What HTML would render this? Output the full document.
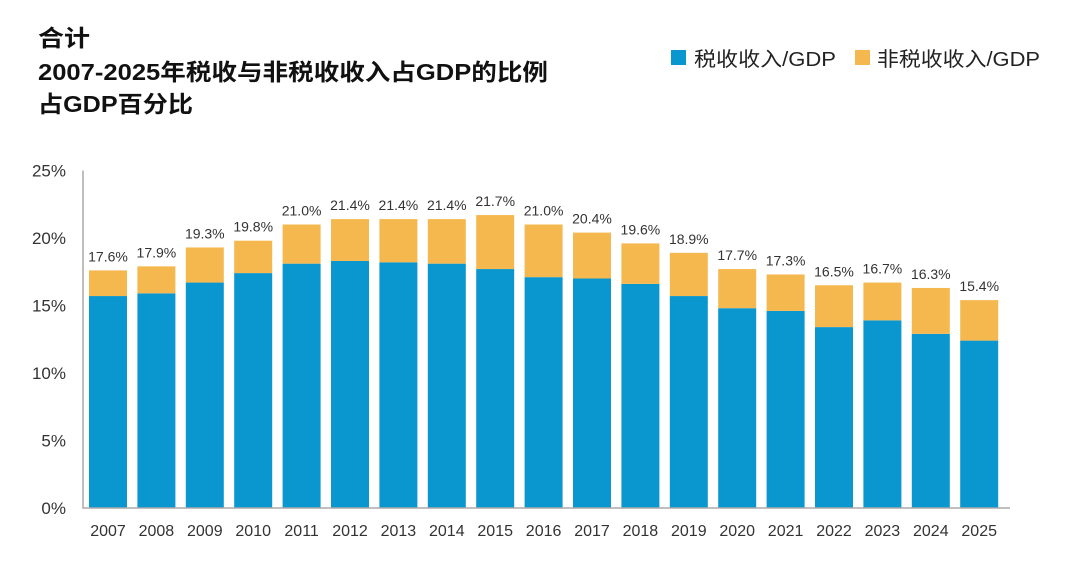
<!DOCTYPE html>
<html><head><meta charset="utf-8"><style>
body{margin:0;background:#fff;width:1080px;height:563px;overflow:hidden;font-family:"Liberation Sans","Noto Sans CJK SC",sans-serif;}
</style></head><body>
<svg width="1080" height="563" xmlns="http://www.w3.org/2000/svg">
<g font-family="Liberation Sans, Noto Sans CJK SC, sans-serif" font-weight="bold" fill="#111" font-size="23">
<text x="38" y="46" textLength="52" lengthAdjust="spacingAndGlyphs">合计</text>
<text x="38" y="80" textLength="510" lengthAdjust="spacingAndGlyphs">2007-2025年税收与非税收收入占GDP的比例</text>
<text x="38" y="112" textLength="155" lengthAdjust="spacingAndGlyphs">占GDP百分比</text>
</g>
<g font-size="20" fill="#222" font-family="Liberation Sans, Noto Sans CJK SC, sans-serif">
<rect x="671" y="50" width="15" height="15" fill="#0a97cf"/>
<text x="694" y="66" textLength="142" lengthAdjust="spacingAndGlyphs">税收收入/GDP</text>
<rect x="855" y="50" width="15" height="15" fill="#f5b84f"/>
<text x="877" y="66" textLength="163" lengthAdjust="spacingAndGlyphs">非税收收入/GDP</text>
</g>
<g id="plot"></g>
</svg>
<script>
const years=["2007","2008","2009","2010","2011","2012","2013","2014","2015","2016","2017","2018","2019","2020","2021","2022","2023","2024","2025"];
const totals=[17.6,17.9,19.3,19.8,21.0,21.4,21.4,21.4,21.7,21.0,20.4,19.6,18.9,17.7,17.3,16.5,16.7,16.3,15.4];
const tax=[15.7,15.9,16.7,17.4,18.1,18.3,18.2,18.1,17.7,17.1,17.0,16.6,15.7,14.8,14.6,13.4,13.9,12.9,12.4];
const yTicks=[0,5,10,15,20,25];
const NS="http://www.w3.org/2000/svg";
const g=document.getElementById('plot');
const y0=508,ppu=13.5,x0=89,step=48.4,bw=38;
const y=v=>y0-v*ppu;
const x=i=>x0+i*step;
function mk(t,a){const e=document.createElementNS(NS,t);for(const k in a)e.setAttribute(k,a[k]);g.appendChild(e);return e;}
yTicks.forEach(v=>{const t=mk('text',{x:66,y:y(v)+6,'text-anchor':'end','font-size':17,fill:'#333'});t.textContent=v+'%';

});
years.forEach((yr,i)=>{
const b=mk('rect',{x:x(i),y:y(tax[i]),width:bw,height:tax[i]*ppu,fill:'#0a97cf'});


const n=mk('rect',{x:x(i),y:y(totals[i]),width:bw,height:(totals[i]-tax[i])*ppu,fill:'#f5b84f'});


const l=mk('text',{x:x(i)+bw/2,y:y(totals[i])-9,'text-anchor':'middle','font-size':14,fill:'#333'});l.textContent=totals[i].toFixed(1)+'%';


const xl=mk('text',{x:x(i)+bw/2,y:536,'text-anchor':'middle','font-size':16,fill:'#333'});xl.textContent=yr;


});
const ax=mk('path',{d:`M83 ${y(25)} V${y0} H1010`,stroke:'#aaa','stroke-width':1.5,fill:'none'});


</script>
</body></html>
